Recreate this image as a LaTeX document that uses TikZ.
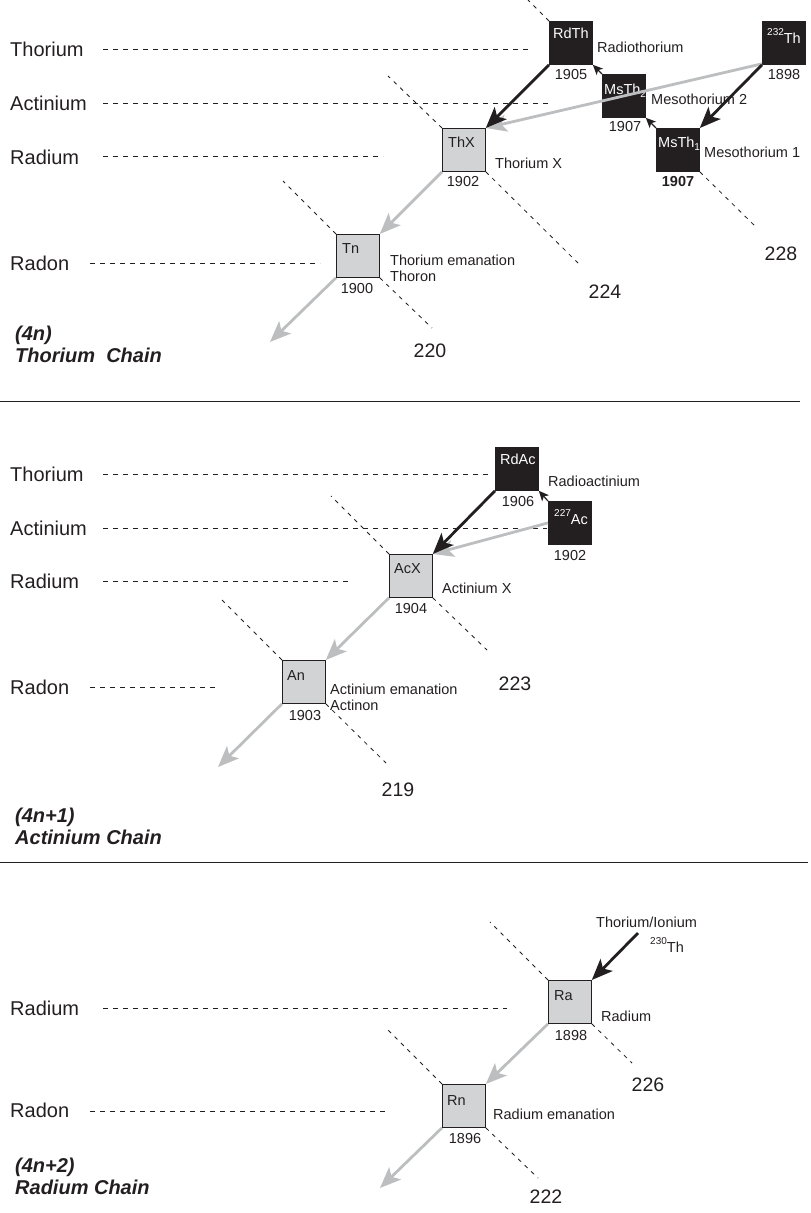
\documentclass[tikz,border=0pt]{standalone}
\usepackage{fontspec}
\setmainfont{Liberation Sans}
\usetikzlibrary{arrows.meta}
\definecolor{ink}{HTML}{231F20}
\definecolor{boxgrey}{HTML}{D1D3D4}
\definecolor{arrgrey}{HTML}{BCBEC0}
\tikzset{
  blackbox/.style={draw=ink, fill=ink, minimum size=43pt, inner sep=0pt, anchor=north west, line width=0.8pt},
  greybox/.style={draw=ink, fill=boxgrey, minimum size=43pt, inner sep=0pt, anchor=north west, line width=0.8pt},
  intext/.style={inner sep=0pt, anchor=base west, text=ink, font=\fontsize{14.5}{14.5}\selectfont},
  wintext/.style={intext, text=white},
  nuclname/.style={inner sep=0pt, anchor=west, text=ink, font=\fontsize{14.5}{16}\selectfont, align=left},
  yearlbl/.style={inner sep=0pt, anchor=center, text=ink, font=\fontsize{14.5}{14.5}\selectfont},
  massno/.style={inner sep=0pt, anchor=center, text=ink, font=\fontsize{19.5}{19.5}\selectfont},
  rowlabel/.style={inner sep=0pt, anchor=west, text=ink, font=\fontsize{20}{20}\selectfont},
  chainlabel/.style={inner sep=0pt, anchor=north west, align=left, text=ink, font=\fontsize{20}{22}\selectfont\bfseries\itshape},
  hdash/.style={draw=ink, dash pattern=on 5pt off 5pt, line width=0.8pt},
  ddash/.style={draw=ink, dash pattern=on 4pt off 5pt, line width=0.8pt},
  blackarrow/.style={draw=ink, line width=2.8pt, -{Stealth[length=21pt,width=17pt,inset=5pt]}},
  greyarrow/.style={draw=arrgrey, line width=2.8pt, -{Stealth[length=21pt,width=17pt,inset=5pt]}},
  smallarrow/.style={draw=ink, line width=1.2pt, -{Stealth[length=10pt,width=9pt,inset=2.5pt]}},
  seprule/.style={draw=ink, line width=1pt},
}
\newcommand{\supnum}[1]{\raisebox{8pt}{\fontsize{10}{10}\selectfont #1}}
\newcommand{\subnum}[1]{\raisebox{-3pt}{\fontsize{10}{10}\selectfont #1}}
\begin{document}
\begin{tikzpicture}[x=1pt,y=-1pt]
\useasboundingbox (0,0) rectangle (811,1213);

%================ Section 1: Thorium chain ================
\node[rowlabel] (r1Th) at (10,49) {Thorium};
\node[rowlabel] (r1Ac) at (10,103) {Actinium};
\node[rowlabel] (r1Ra) at (10,157) {Radium};
\node[rowlabel] (r1Rn) at (10,263) {Radon};
\draw[hdash] (103,49) -- (530,49);
\draw[hdash] (103,103) -- (550,103);
\draw[hdash] (103,156) -- (383,156);
\draw[hdash] (90,263) -- (320,263);

\node[blackbox] (RdTh) at (549,21) {};
\node[blackbox] (Th232) at (762,21) {};
\node[blackbox] (MsTh2) at (602,74) {};
\node[blackbox] (MsTh1) at (656,128) {};
\node[greybox] (ThX) at (442,128) {};
\node[greybox] (Tn) at (336,234) {};

\coordinate (dRdThA) at (528,0);
\coordinate (dThXA) at (388,76);
\coordinate (dThXB) at (578,263);
\coordinate (dTnA) at (283,181);
\coordinate (dTnB) at (432,328);
\coordinate (dMsThB) at (757,228);
\draw[ddash] (RdTh.north west) -- (dRdThA);
\draw[ddash] (ThX.north west) -- (dThXA);
\draw[ddash] (ThX.south east) -- (dThXB);
\draw[ddash] (Tn.north west) -- (dTnA);
\draw[ddash] (Tn.south east) -- (dTnB);
\draw[ddash] (MsTh1.south east) -- (dMsThB);

\node[wintext] (tRdTh) at (553,38) {RdTh};
\node[wintext, anchor=base east] (tTh232) at (801,43) {\supnum{232}Th};
\node[wintext] (tMsTh2) at (604,94) {MsTh\subnum{2}};
\node[wintext] (tMsTh1) at (658,147) {MsTh\subnum{1}};
\node[intext] (tThX) at (448,147) {ThX};
\node[intext] (tTn) at (342,253) {Tn};

\node[nuclname] (nRdTh) at (597,47) {Radiothorium};
\node[nuclname] (nMsTh2) at (651,99) {Mesothorium 2};
\node[nuclname] (nMsTh1) at (704,152) {Mesothorium 1};
\node[nuclname] (nThX) at (495,163) {Thorium X};
\node[nuclname, anchor=north west] (nTn) at (390,255) {Thorium emanation\\Thoron};

\node[yearlbl] (yRdTh) at (571,75) {1905};
\node[yearlbl] (yTh232) at (784,75) {1898};
\node[yearlbl] (yMsTh2) at (625,127) {1907};
\node[yearlbl, font=\fontsize{14.5}{14.5}\selectfont\bfseries] (yMsTh1) at (678,182) {1907};
\node[yearlbl] (yThX) at (463,182) {1902};
\node[yearlbl] (yTn) at (357,289) {1900};

\node[massno] (m228) at (781,254) {228};
\node[massno] (m224) at (605,292) {224};
\node[massno] (m220) at (430,351) {220};

\coordinate (eTn) at (270,342);
\draw[greyarrow] ([yshift=1pt]Th232.south west) -- (ThX.north east);
\draw[blackarrow] (RdTh.south west) -- (ThX.north east);
\draw[blackarrow] (Th232.south west) -- (MsTh1.north east);
\draw[smallarrow] (MsTh1.north west) -- (MsTh2.south east);
\draw[smallarrow] (MsTh2.north west) -- (RdTh.south east);
\draw[greyarrow] (ThX.south west) -- (Tn.north east);
\draw[greyarrow] (Tn.south west) -- (eTn);

\node[chainlabel] (c1) at (15,326) {(4n)\\Thorium~ Chain};
\draw[seprule] (0,401) -- (800,401);

%================ Section 2: Actinium chain ================
\node[rowlabel] (r2Th) at (10,474) {Thorium};
\node[rowlabel] (r2Ac) at (10,528) {Actinium};
\node[rowlabel] (r2Ra) at (10,581) {Radium};
\node[rowlabel] (r2Rn) at (10,687) {Radon};
\draw[hdash] (103,474) -- (492,474);
\draw[hdash] (103,528) -- (547,528);
\draw[hdash] (103,581) -- (348,581);
\draw[hdash] (90,687) -- (215,687);

\node[blackbox] (RdAc) at (495,447) {};
\node[blackbox] (Ac227) at (548,501) {};
\node[greybox] (AcX) at (389,554) {};
\node[greybox] (An) at (282,660) {};

\coordinate (dAcXA) at (331,496);
\coordinate (dAcXB) at (487,650);
\coordinate (dAnA) at (222,600);
\coordinate (dAnB) at (386,763);
\draw[ddash] (AcX.north west) -- (dAcXA);
\draw[ddash] (AcX.south east) -- (dAcXB);
\draw[ddash] (An.north west) -- (dAnA);
\draw[ddash] (An.south east) -- (dAnB);

\node[wintext] (tRdAc) at (500,464) {RdAc};
\node[wintext, anchor=base east] (tAc227) at (588,524) {\supnum{227}Ac};
\node[intext] (tAcX) at (394,573) {AcX};
\node[intext] (tAn) at (287,680) {An};

\node[nuclname] (nRdAc) at (548,481) {Radioactinium};
\node[nuclname] (nAcX) at (442,588) {Actinium X};
\node[nuclname, anchor=north west] (nAn) at (330,684) {Actinium emanation\\Actinon};

\node[yearlbl] (yRdAc) at (518,502) {1906};
\node[yearlbl] (yAc227) at (570,555) {1902};
\node[yearlbl] (yAcX) at (411,608) {1904};
\node[yearlbl] (yAn) at (305,715) {1903};

\node[massno] (m223) at (515,684) {223};
\node[massno] (m219) at (398,790) {219};

\coordinate (eAn) at (218,767);
\draw[greyarrow] (Ac227.west) -- (AcX.north east);
\draw[blackarrow] (RdAc.south west) -- (AcX.north east);
\draw[smallarrow] (Ac227.north west) -- (RdAc.south east);
\draw[greyarrow] (AcX.south west) -- (An.north east);
\draw[greyarrow] (An.south west) -- (eAn);

\node[chainlabel] (c2) at (15,808) {(4n+1)\\Actinium Chain};
\draw[seprule] (0,862) -- (808,862);

%================ Section 3: Radium chain ================
\node[rowlabel] (r3Ra) at (10,1008) {Radium};
\node[rowlabel] (r3Rn) at (10,1110) {Radon};
\draw[hdash] (103,1008) -- (507,1008);
\draw[hdash] (90,1111) -- (387,1111);

\node[greybox] (Ra) at (548,980) {};
\node[greybox] (Rn) at (442,1084) {};

\coordinate (dRaA) at (490,922);
\coordinate (dRaB) at (632,1063);
\coordinate (dRnA) at (387,1029);
\coordinate (dRnB) at (538,1178);
\draw[ddash] (Ra.north west) -- (dRaA);
\draw[ddash] (Ra.south east) -- (dRaB);
\draw[ddash] (Rn.north west) -- (dRnA);
\draw[ddash] (Rn.south east) -- (dRnB);

\node[intext] (tRa) at (554,1000) {Ra};
\node[intext] (tRn) at (447,1105) {Rn};

\node[nuclname] (nRa) at (601,1016) {Radium};
\node[nuclname] (nRn) at (493,1114) {Radium emanation};
\node[nuclname] (nIo) at (596,922) {Thorium/Ionium};
\node[intext] (tTh230) at (650,952) {\supnum{230}Th};

\node[yearlbl] (yRa) at (571,1035) {1898};
\node[yearlbl] (yRn) at (465,1138) {1896};

\node[massno] (m226) at (648,1085) {226};
\node[massno] (m222) at (546,1197) {222};

\coordinate (sIo) at (638,933);
\coordinate (eRn) at (380,1188);
\draw[blackarrow] (sIo) -- (Ra.north east);
\draw[greyarrow] (Ra.south west) -- (Rn.north east);
\draw[greyarrow] (Rn.south west) -- (eRn);

\node[chainlabel] (c3) at (15,1158) {(4n+2)\\Radium Chain};
\end{tikzpicture}
\end{document}
